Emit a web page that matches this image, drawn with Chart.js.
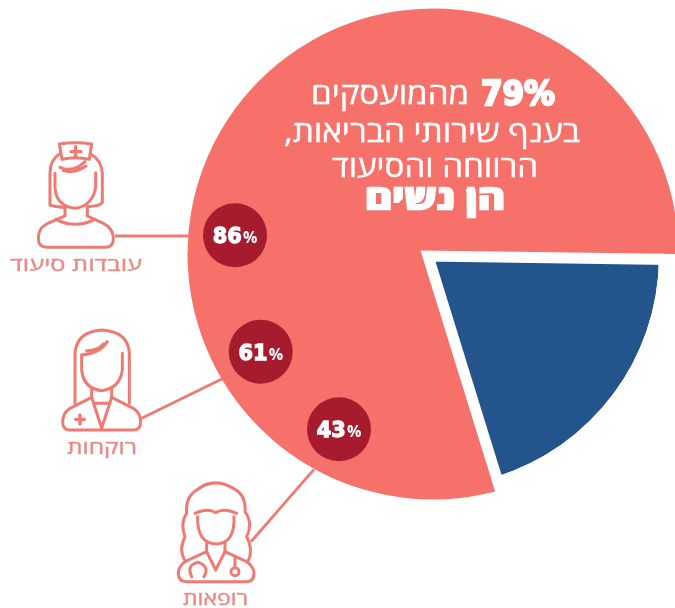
<!DOCTYPE html>
<html lang="he">
<head>
<meta charset="utf-8">
<title>נשים בענף הבריאות</title>
<script src="https://cdn.jsdelivr.net/npm/chart.js@4/dist/chart.umd.min.js"></script>
<style>
html,body{margin:0;padding:0;background:#fff;width:675px;height:608px;overflow:hidden}
#wrap{position:relative;width:675px;height:608px;overflow:hidden}
#disc{position:absolute;left:173px;top:-6px}
#pie{position:absolute;left:157.5px;top:-14.5px}
#ov{position:absolute;left:0;top:0}
</style>
</head>
<body>
<div id="wrap">
<canvas id="disc" width="520" height="520" style="width:520px;height:520px"></canvas>
<canvas id="pie" width="540" height="540" style="width:540px;height:540px"></canvas>
<svg id="ov" width="675" height="608" xmlns="http://www.w3.org/2000/svg"></svg>
</div>
<script>
const categories = ["נשים", "גברים"];
const shares = [80, 20];
const occupations = ["עובדות סיעוד", "רוקחות", "רופאות"];
const occupationShares = [86, 61, 43];
const headlineLines = ["מהמועסקים", "בענף שירותי הבריאות,", "הרווחה והסיעוד", "הן נשים"];
const headlineShare = "79%";

const RED = "#F5716A", BLUE = "#24548C", DARK = "#A61B2E", WHITE = "#FFFFFF", LINE = "#EE7B73", LABEL = "#E98B84", NONE = "rgba(0,0,0,0)";
const rotation = 162.8;
const base = { responsive: false, animation: false, rotation, layout: { padding: 0 },
  plugins: { legend: { display: false }, tooltip: { enabled: false } } };

new Chart(document.getElementById("disc"), {
  type: "pie",
  data: { labels: categories, datasets: [
    { data: shares, backgroundColor: [RED, RED], borderColor: [RED, RED], borderWidth: 0 }
  ] },
  options: { ...base, radius: 245.5 }
});

new Chart(document.getElementById("pie"), {
  type: "pie",
  data: { labels: categories, datasets: [
    { data: shares, weight: 23.5, backgroundColor: [NONE, WHITE], borderColor: [NONE, WHITE], borderWidth: [0, 11], borderJoinStyle: "miter" },
    { data: shares, weight: 236.5, backgroundColor: [NONE, BLUE], borderColor: [NONE, WHITE], borderWidth: [0, 11], borderJoinStyle: "miter" }
  ] },
  options: { ...base, radius: 260 }
});

const badgeSpots = [[235, 235.3], [260.7, 351.7], [339, 429.3]];
const labelSpots = [[76, 271, 132], [102, 454, 70], [215.5, 605, 65]];
const connectors = ["M115 236H190", "M141.7 418.3L223.3 378.3", "M251 541.7L314 469.3"];

const nurse = `<g transform="translate(0,130) scale(.3333)" fill="none" stroke="${LINE}" stroke-width="9" stroke-linecap="round" stroke-linejoin="round">
<path d="M178 42Q225 34 275 42L268 88Q225 78 186 88Z"/>
<path d="M227 50V80M213 65H243" stroke-width="10"/>
<path d="M178 72Q150 90 150 130V225Q170 232 198 232"/>
<path d="M272 72Q305 90 307 130V218Q300 228 262 230"/>
<path d="M165 130V175Q170 230 228 235Q280 225 287 170V128"/>
<path d="M180 112Q220 130 255 95M190 122Q222 132 258 108"/>
<path d="M195 235V258L140 282Q115 295 115 325Q115 352 140 352H318Q340 352 340 325Q340 295 310 280L262 258V232"/>
<path d="M168 268Q225 298 285 268"/>
</g>`;
const pharmacist = `<g transform="translate(50,320) scale(.3333)" fill="none" stroke="${LINE}" stroke-width="9" stroke-linecap="round" stroke-linejoin="round">
<path d="M75 250V100Q80 35 155 30Q235 35 238 100V250"/>
<path d="M95 105V150Q100 205 155 212Q210 205 217 150V100"/>
<path d="M95 105Q150 100 172 65M110 92Q145 92 160 72"/>
<path d="M125 205V232L60 265Q38 280 38 305Q38 330 60 330H250Q272 330 272 305Q272 280 250 265L185 232V205"/>
<path d="M125 232L155 325L185 232M135 250H175"/>
<path d="M90 285V312M77 298H103" stroke-width="10"/>
</g>`;
const doctor = `<g transform="translate(50,320) scale(.3333)" fill="none" stroke="${LINE}" stroke-width="9" stroke-linecap="round" stroke-linejoin="round">
<path d="M405 722Q385 690 405 650Q390 610 410 580Q405 530 440 510Q490 470 550 505Q590 525 585 575Q610 610 590 650Q610 690 595 722"/>
<path d="M443 590Q440 670 500 672Q555 670 552 590"/>
<path d="M435 580Q475 562 497 578Q520 562 560 580"/>
<path d="M470 665V695L405 725Q385 740 385 760Q385 785 410 785H590Q612 785 612 760Q612 740 590 725L525 695V665"/>
<path d="M470 695L497 750L525 695"/>
<path d="M425 770Q408 735 445 727Q480 740 462 770"/>
<circle cx="555" cy="755" r="12"/><path d="M555 742V715"/>
</g>`;

let svg = connectors.map(d => `<path d="${d}" fill="none" stroke="${LINE}" stroke-width="2.8"/>`).join("");
svg += nurse + pharmacist + doctor;

occupations.forEach((name, i) => {
  const [x, y, w] = labelSpots[i];
  svg += `<text x="${x}" y="${y}" text-anchor="middle" direction="rtl" font-family="'Open Sans','Liberation Sans',sans-serif" font-size="18" fill="${LABEL}" stroke="${LABEL}" stroke-width=".35" textLength="${w}" lengthAdjust="spacingAndGlyphs">${name}</text>`;
});
occupationShares.forEach((v, i) => {
  const [x, y] = badgeSpots[i];
  svg += `<circle cx="${x}" cy="${y}" r="32" fill="${DARK}"/>`;
  svg += `<text x="${x - 22.3}" y="${y + 8}" font-family="'DejaVu Sans',sans-serif" font-weight="700" font-size="22" fill="#fff" stroke="#fff" stroke-width="1.3" textLength="29" lengthAdjust="spacingAndGlyphs">${v}</text>`;
  svg += `<text x="${x + 8}" y="${y + 8}" font-family="'Open Sans',sans-serif" font-weight="700" font-size="16" fill="#fff">%</text>`;
});

const hf = "'Open Sans','Liberation Sans',sans-serif";
svg += `<text x="518" y="105" text-anchor="middle" font-family="'DejaVu Sans',sans-serif" font-weight="700" font-size="33" fill="#fff" stroke="#fff" stroke-width="2.4" textLength="74" lengthAdjust="spacingAndGlyphs">${headlineShare}</text>`;
svg += `<text x="390" y="104" text-anchor="middle" direction="rtl" font-family="${hf}" font-size="30" fill="#fff" stroke="#fff" stroke-width=".4" textLength="158" lengthAdjust="spacingAndGlyphs">${headlineLines[0]}</text>`;
svg += `<text x="432" y="142" text-anchor="middle" direction="rtl" font-family="${hf}" font-size="30" fill="#fff" stroke="#fff" stroke-width=".4" textLength="296" lengthAdjust="spacingAndGlyphs">${headlineLines[1]}</text>`;
svg += `<text x="435" y="177" text-anchor="middle" direction="rtl" font-family="${hf}" font-size="30" fill="#fff" stroke="#fff" stroke-width=".4" textLength="206" lengthAdjust="spacingAndGlyphs">${headlineLines[2]}</text>`;
svg += `<text x="435" y="209" text-anchor="middle" direction="rtl" font-family="${hf}" font-weight="700" font-size="33" fill="#fff" stroke="#fff" stroke-width="2.6" textLength="140" lengthAdjust="spacingAndGlyphs">${headlineLines[3]}</text>`;

document.getElementById("ov").innerHTML = svg;
</script>
</body>
</html>
